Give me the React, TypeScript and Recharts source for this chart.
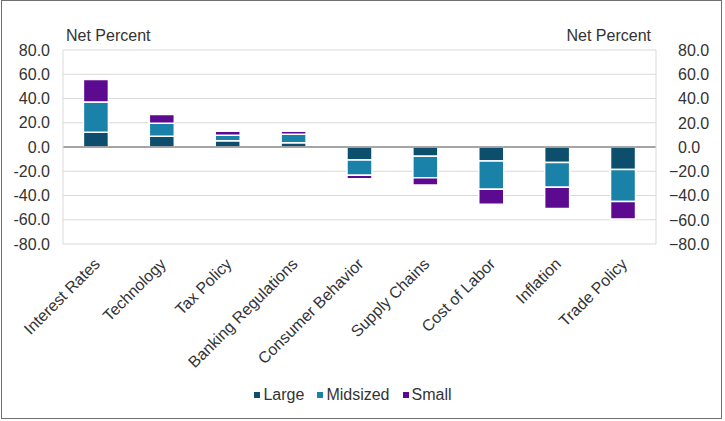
import React from "react";
import {
  BarChart,
  Bar,
  XAxis,
  YAxis,
  CartesianGrid,
  Legend,
  ReferenceLine,
} from "recharts";

const categories = [
  "Interest Rates",
  "Technology",
  "Tax Policy",
  "Banking Regulations",
  "Consumer Behavior",
  "Supply Chains",
  "Cost of Labor",
  "Inflation",
  "Trade Policy",
];

const large = [12.1, 8.8, 5.2, 3.6, -10.8, -7.7, -11.6, -12.7, -18.5];
const midsized = [25.0, 10.8, 4.5, 6.9, -12.6, -17.7, -23.2, -20.4, -26.5];
const small = [18.6, 7.2, 3.3, 2.5, -2.8, -6.0, -12.4, -17.7, -14.3];

const yTicks = [-80, -60, -40, -20, 0, 20, 40, 60, 80];

const SERIES = [
  { key: "large", label: "Large", color: "#0C4E6C" },
  { key: "midsized", label: "Midsized", color: "#1A82A8" },
  { key: "small", label: "Small", color: "#5C0B91" },
];

const data = categories.map((name, i) => ({
  name,
  large: large[i],
  midsized: midsized[i],
  small: small[i],
}));

const FONT = "'Liberation Sans', Arial, sans-serif";
const TEXT = "#333333";
const FS = 16;

// rotated category labels, end of text sits just right of the bar centre
// eslint-disable-next-line @typescript-eslint/no-explicit-any
function CategoryTick({ x, y, payload }: any) {
  const ax = x + 5;
  const ay = y + 13;
  return (
    <text
      x={ax}
      y={ay}
      textAnchor="end"
      transform={`rotate(-45, ${ax}, ${ay})`}
      fontSize={FS}
      fontFamily={FONT}
      fill={TEXT}
    >
      {payload.value}
    </text>
  );
}

// right axis: numbers left aligned, minus sign hangs to the left
// eslint-disable-next-line @typescript-eslint/no-explicit-any
function RightTick({ x, y, payload }: any) {
  const v = payload.value as number;
  const txt = v < 0 ? `\u2212${Math.abs(v).toFixed(1)}` : v.toFixed(1);
  return (
    <text
      x={x}
      y={y}
      dx={v < 0 ? -9 : 0}
      dy="0.36em"
      textAnchor="start"
      fontSize={FS}
      fontFamily={FONT}
      fill={TEXT}
    >
      {txt}
    </text>
  );
}

// eslint-disable-next-line @typescript-eslint/no-explicit-any
function LegendContent({ payload }: any) {
  return (
    <div
      style={{
        height: 22,
        display: "flex",
        justifyContent: "center",
        alignItems: "center",
        fontFamily: FONT,
        fontSize: FS,
        color: TEXT,
        paddingRight: 6,
      }}
    >
      {(payload || []).map((p: { value: string; color: string }) => (
        <div key={p.value} style={{ display: "flex", alignItems: "center", marginRight: 13 }}>
          <div style={{ width: 6, height: 6, background: p.color, marginRight: 3 }} />
          <span>{p.value}</span>
        </div>
      ))}
    </div>
  );
}

export default function App() {
  return (
    <div
      style={{
        position: "absolute",
        left: 0,
        top: 0,
        width: 725,
        height: 421,
        background: "#fff",
      }}
    >
      <div
        style={{
          position: "absolute",
          left: 1,
          top: 0,
          width: 721,
          height: 419,
          border: "1.5px solid #707070",
          boxSizing: "border-box",
        }}
      />
      <BarChart
        width={725}
        height={421}
        data={data}
        stackOffset="sign"
        barCategoryGap="31%"
        margin={{ top: 50, right: 0, left: 0, bottom: 15 }}
      >
        <CartesianGrid yAxisId="left" stroke="#d9d9d9" vertical={false} />

        <XAxis
          dataKey="name"
          interval={0}
          height={140}
          tick={<CategoryTick />}
          tickLine={false}
          axisLine={false}
        />
        <YAxis
          yAxisId="left"
          orientation="left"
          width={63}
          domain={[-80, 80]}
          ticks={yTicks}
          tickFormatter={(v) => Number(v).toFixed(1)}
          tick={{ fontSize: FS, fill: TEXT, fontFamily: FONT }}
          tickLine={false}
          tickMargin={7}
          axisLine={{ stroke: "#d9d9d9" }}
          label={{
            content: (props: any) => (
              <text
                x={props.viewBox.x + props.viewBox.width + 3}
                y={props.viewBox.y - 9}
                fontSize={FS}
                fontFamily={FONT}
                fill={TEXT}
              >
                Net Percent
              </text>
            ),
          }}
        />
        <YAxis
          yAxisId="right"
          orientation="right"
          width={69}
          domain={[-80, 80]}
          allowDataOverflow
          ticks={yTicks}
          tick={<RightTick />}
          tickLine={false}
          tickMargin={16}
          axisLine={{ stroke: "#d9d9d9" }}
          label={{
            content: (props: any) => (
              <text
                x={props.viewBox.x - 5}
                y={props.viewBox.y - 9}
                textAnchor="end"
                fontSize={FS}
                fontFamily={FONT}
                fill={TEXT}
              >
                Net Percent
              </text>
            ),
          }}
        />

        <Legend verticalAlign="bottom" content={<LegendContent />} />

        {SERIES.map(({ key, label, color }) => (
          <Bar
            key={key}
            yAxisId="left"
            dataKey={key}
            name={label}
            stackId="a"
            fill={color}
            stroke="#fff"
            strokeWidth={1.5}
            isAnimationActive={false}
          />
        ))}

        <ReferenceLine yAxisId="left" y={0} stroke="#8c8c8c" strokeWidth={1.5} />
      </BarChart>
    </div>
  );
}
